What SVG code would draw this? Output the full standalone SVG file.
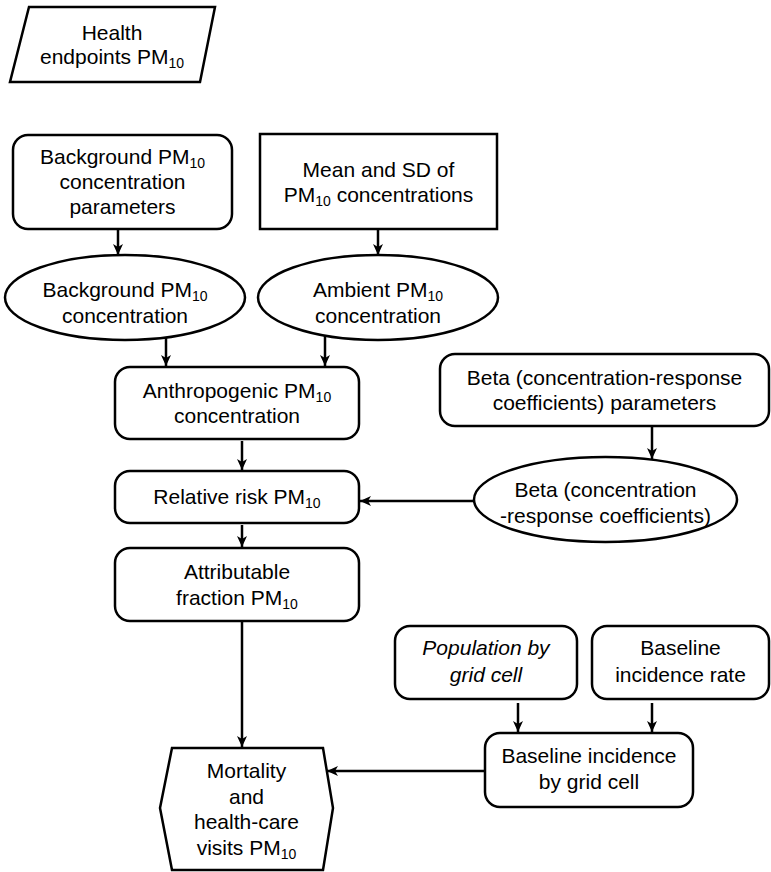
<svg xmlns="http://www.w3.org/2000/svg" width="771" height="872" viewBox="0 0 771 872">
<defs>
<style>
.n{fill:#fff;stroke:#000;stroke-width:2.5}
.t{font-family:"Liberation Sans",Arial,sans-serif;font-size:21px;fill:#000;text-anchor:middle}
.s{font-size:14px}
.i{font-style:italic}
.c{stroke:#000;stroke-width:2.5;fill:none;marker-end:url(#ah)}
</style>
<marker id="ah" viewBox="0 0 11 10" refX="11" refY="5" markerWidth="11" markerHeight="10" markerUnits="userSpaceOnUse" orient="auto">
<path d="M0,0 L11,5 L0,10 L3,5 Z" fill="#000"/>
</marker>
</defs>
<rect width="771" height="872" fill="#fff"/>

<g id="health-endpoints">
<polygon class="n" points="29,7 215,7 200,82 10,82"/>
<text class="t" x="112" y="40">Health</text>
<text class="t" x="112" y="64">endpoints PM<tspan class="s" dy="4">10</tspan></text>
</g>

<g id="bg-params">
<rect class="n" x="13" y="135" width="219" height="94" rx="15"/>
<text class="t" x="122.5" y="164">Background PM<tspan class="s" dy="4">10</tspan></text>
<text class="t" x="122.5" y="189">concentration</text>
<text class="t" x="122.5" y="214">parameters</text>
</g>

<g id="mean-sd">
<rect class="n" x="260" y="134" width="237" height="95"/>
<text class="t" x="378.5" y="177">Mean and SD of</text>
<text class="t" x="378.5" y="202">PM<tspan class="s" dy="4">10</tspan><tspan dy="-4"> concentrations</tspan></text>
</g>

<g id="bg-conc">
<ellipse class="n" cx="125" cy="297.5" rx="120" ry="42.5"/>
<text class="t" x="125" y="297">Background PM<tspan class="s" dy="4">10</tspan></text>
<text class="t" x="125" y="323">concentration</text>
</g>

<g id="ambient-conc">
<ellipse class="n" cx="378" cy="297.5" rx="120" ry="42.5"/>
<text class="t" x="378" y="297">Ambient PM<tspan class="s" dy="4">10</tspan></text>
<text class="t" x="378" y="323">concentration</text>
</g>

<g id="anthropogenic">
<rect class="n" x="115" y="367" width="244" height="72" rx="15"/>
<text class="t" x="237" y="398">Anthropogenic PM<tspan class="s" dy="4">10</tspan></text>
<text class="t" x="237" y="423">concentration</text>
</g>

<g id="beta-params">
<rect class="n" x="440" y="354" width="329" height="72" rx="15"/>
<text class="t" x="604.5" y="385">Beta (concentration-response</text>
<text class="t" x="604.5" y="410">coefficients) parameters</text>
</g>

<g id="relative-risk">
<rect class="n" x="115" y="471" width="244" height="52" rx="15"/>
<text class="t" x="237" y="504">Relative risk PM<tspan class="s" dy="4">10</tspan></text>
</g>

<g id="beta">
<ellipse class="n" cx="605.5" cy="499.5" rx="131.5" ry="42.5"/>
<text class="t" x="605.5" y="497">Beta (concentration</text>
<text class="t" x="605.5" y="523">-response coefficients)</text>
</g>

<g id="attributable">
<rect class="n" x="115" y="548" width="244" height="73" rx="15"/>
<text class="t" x="237" y="579">Attributable</text>
<text class="t" x="237" y="605">fraction PM<tspan class="s" dy="4">10</tspan></text>
</g>

<g id="population">
<rect class="n" x="395" y="626" width="182" height="73" rx="15"/>
<text class="t i" x="486" y="655">Population by</text>
<text class="t i" x="486" y="682">grid cell</text>
</g>

<g id="baseline-rate">
<rect class="n" x="592" y="626" width="177" height="73" rx="15"/>
<text class="t" x="680.5" y="655">Baseline</text>
<text class="t" x="680.5" y="682">incidence rate</text>
</g>

<g id="baseline-grid">
<rect class="n" x="485" y="733" width="208" height="74" rx="15"/>
<text class="t" x="589" y="763">Baseline incidence</text>
<text class="t" x="589" y="789">by grid cell</text>
</g>

<g id="mortality">
<polygon class="n" points="172,748 323,748 333,808 323,870 172,870 160,808"/>
<text class="t" x="246.5" y="778">Mortality</text>
<text class="t" x="246.5" y="803.5">and</text>
<text class="t" x="246.5" y="829">health-care</text>
<text class="t" x="246.5" y="854.5">visits PM<tspan class="s" dy="4">10</tspan></text>
</g>

<g id="connectors">
<line class="c" x1="118" y1="229" x2="118" y2="255"/>
<line class="c" x1="378" y1="229" x2="378" y2="255"/>
<line class="c" x1="166" y1="338" x2="166" y2="366"/>
<line class="c" x1="325" y1="336" x2="325" y2="366"/>
<line class="c" x1="242" y1="441" x2="242" y2="470"/>
<line class="c" x1="652" y1="426" x2="652" y2="459"/>
<line class="c" x1="474" y1="501" x2="360" y2="501"/>
<line class="c" x1="242" y1="525" x2="242" y2="547"/>
<line class="c" x1="242" y1="621" x2="242" y2="747"/>
<line class="c" x1="518" y1="703" x2="518" y2="732"/>
<line class="c" x1="652" y1="703" x2="652" y2="732"/>
<line class="c" x1="485" y1="771" x2="327" y2="771"/>
</g>
</svg>
